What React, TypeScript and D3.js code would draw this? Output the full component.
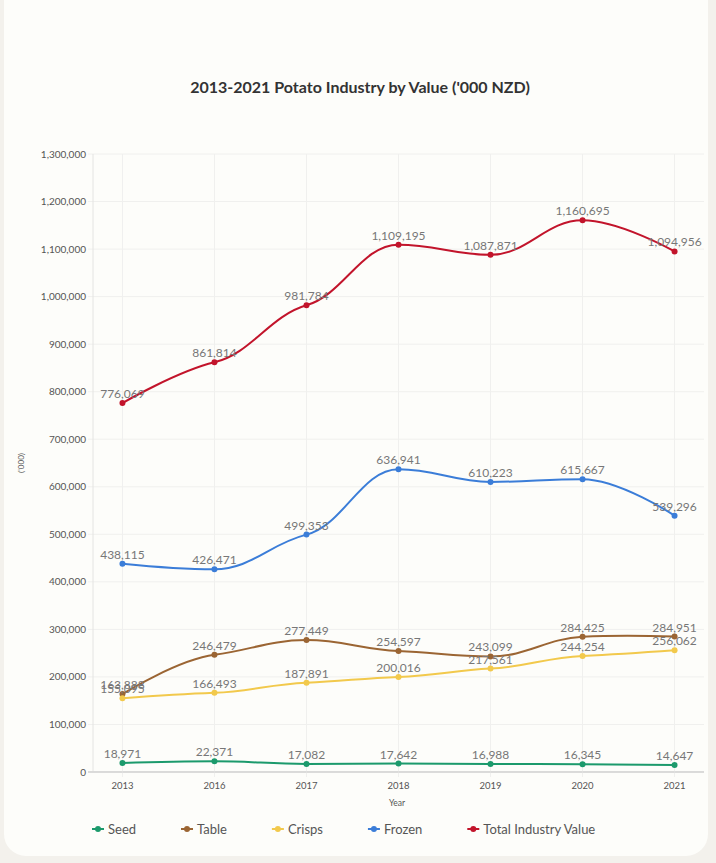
import React from "react";
import * as d3 from "d3";

const years = ["2013", "2016", "2017", "2018", "2019", "2020", "2021"];
const seed = [18971, 22371, 17082, 17642, 16988, 16345, 14647];
const table = [163888, 246479, 277449, 254597, 243099, 284425, 284951];
const crisps = [155095, 166493, 187891, 200016, 217561, 244254, 256062];
const frozen = [438115, 426471, 499353, 636941, 610223, 615667, 539296];
const total = [776069, 861814, 981784, 1109195, 1087871, 1160695, 1094956];
const yTicks = d3.range(0, 1300001, 100000);

const seriesNames = ["Seed", "Table", "Crisps", "Frozen", "Total Industry Value"];
const seriesValues = [seed, table, crisps, frozen, total];
const seriesColors = ["#1c9a6c", "#9b6533", "#f2c94c", "#3b7dd8", "#c2142b"];

const W = 716;
const H = 863;
const left = 93;
const right = 704;
const top = 154;
const bottom = 772;
const FONT = "Lato, 'Open Sans', sans-serif";

type P = [number, number];

// smooth line: damped tangents at interior points, flat at local extremes
function smoothPath(pts: P[], s: number, k: number): string {
  const n = pts.length;
  const m = pts.map((b, i) => {
    if (i === 0 || i === n - 1) return 0;
    const a = pts[i - 1];
    const c = pts[i + 1];
    const s0 = (b[1] - a[1]) / (b[0] - a[0]);
    const s1 = (c[1] - b[1]) / (c[0] - b[0]);
    if (s0 * s1 <= 0) return 0;
    return k * (c[1] - a[1]) / (c[0] - a[0]);
  });
  const p = d3.path();
  p.moveTo(pts[0][0], pts[0][1]);
  for (let i = 1; i < n; i++) {
    const a = pts[i - 1];
    const b = pts[i];
    const dx = b[0] - a[0];
    const c0: P = i - 1 === 0 ? a : [a[0] + s * dx, a[1] + m[i - 1] * s * dx];
    const c1: P = i === n - 1 ? b : [b[0] - s * dx, b[1] - m[i] * s * dx];
    p.bezierCurveTo(c0[0], c0[1], c1[0], c1[1], b[0], b[1]);
  }
  return p.toString();
}

function measure(text: string, font: string): number {
  const c = document.createElement("canvas").getContext("2d");
  if (!c) return text.length * 6;
  c.font = font;
  return c.measureText(text).width;
}

export default function App() {
  const x = d3
    .scalePoint<string>()
    .domain(years)
    .range([left, right])
    .padding(0.32);
  const y = d3.scaleLinear().domain([0, 1300000]).range([bottom, top]);
  const fmt = d3.format(",");

  const legendFont = `13px ${FONT}`;
  let lx = 92;
  const legendItems = seriesNames.map((name, i) => {
    const item = { name, color: seriesColors[i], x: lx };
    lx += measure(name, legendFont) + 61;
    return item;
  });

  return (
    <div style={{ position: "absolute", left: 0, top: 0 }}>
      <svg width={W} height={H} style={{ display: "block", fontFamily: FONT }}>
        <rect x={0} y={0} width={W} height={H} fill="#f3f1ec" />
        <rect x={4} y={-20} width={704} height={876} rx={22} fill="#fdfdfa" />
        <text x={360} y={93} textAnchor="middle" fontSize={16} fontWeight={700} fill="#333">
          2013-2021 Potato Industry by Value ('000 NZD)
        </text>

        {yTicks.map((t) => (
          <g key={"h" + t}>
            <line x1={left - 5} x2={right} y1={y(t)} y2={y(t)} stroke={t === 0 ? "#cfcfcf" : "#f0f0ee"} strokeWidth={1} />
            <text x={left - 7} y={y(t)} dy="0.35em" textAnchor="end" fontSize={10} fill="#555">
              {fmt(t)}
            </text>
          </g>
        ))}
        {years.map((yr) => (
          <g key={"v" + yr}>
            <line x1={x(yr)} x2={x(yr)} y1={top} y2={bottom + 5} stroke="#f0f0ee" strokeWidth={1} />
            <text x={x(yr)} y={bottom + 17} textAnchor="middle" fontSize={9.5} fill="#555">
              {yr}
            </text>
          </g>
        ))}
        <line x1={left} x2={left} y1={top} y2={bottom} stroke="#e4e4e2" />
        <line x1={left - 5} x2={right} y1={bottom} y2={bottom} stroke="#cfcfcf" />

        <text x={397} y={806} textAnchor="middle" fontSize={8.5} fill="#555">
          Year
        </text>
        <text
          transform={`translate(24,${(top + bottom) / 2}) rotate(-90)`}
          textAnchor="middle"
          fontSize={8}
          fill="#555"
        >
          ('000)
        </text>

        {seriesValues.map((vals, si) => {
          const pts: P[] = vals.map((v, i) => [x(years[i]) as number, y(v)]);
          return (
            <g key={seriesNames[si]}>
              <path d={smoothPath(pts, 0.4, 0.45)} fill="none" stroke={seriesColors[si]} strokeWidth={2} />
              {pts.map((p, i) => (
                <circle key={i} cx={p[0]} cy={p[1]} r={3} fill={seriesColors[si]} />
              ))}
            </g>
          );
        })}
        {seriesValues.map((vals, si) => (
          <g key={"l" + si}>
            {vals.map((v, i) => (
              <text
                key={i}
                x={x(years[i]) as number}
                y={y(v) - 5}
                textAnchor="middle"
                fontSize={12}
                fill="#777"
              >
                {fmt(v)}
              </text>
            ))}
          </g>
        ))}

        {legendItems.map((it) => (
          <g key={it.name} transform={`translate(${it.x},829)`}>
            <line x1={0} x2={12} y1={0} y2={0} stroke={it.color} strokeWidth={2} />
            <circle cx={6} cy={0} r={3} fill={it.color} />
            <text x={16} y={0} dy="0.35em" fontSize={13} fill="#555">
              {it.name}
            </text>
          </g>
        ))}
      </svg>
    </div>
  );
}
